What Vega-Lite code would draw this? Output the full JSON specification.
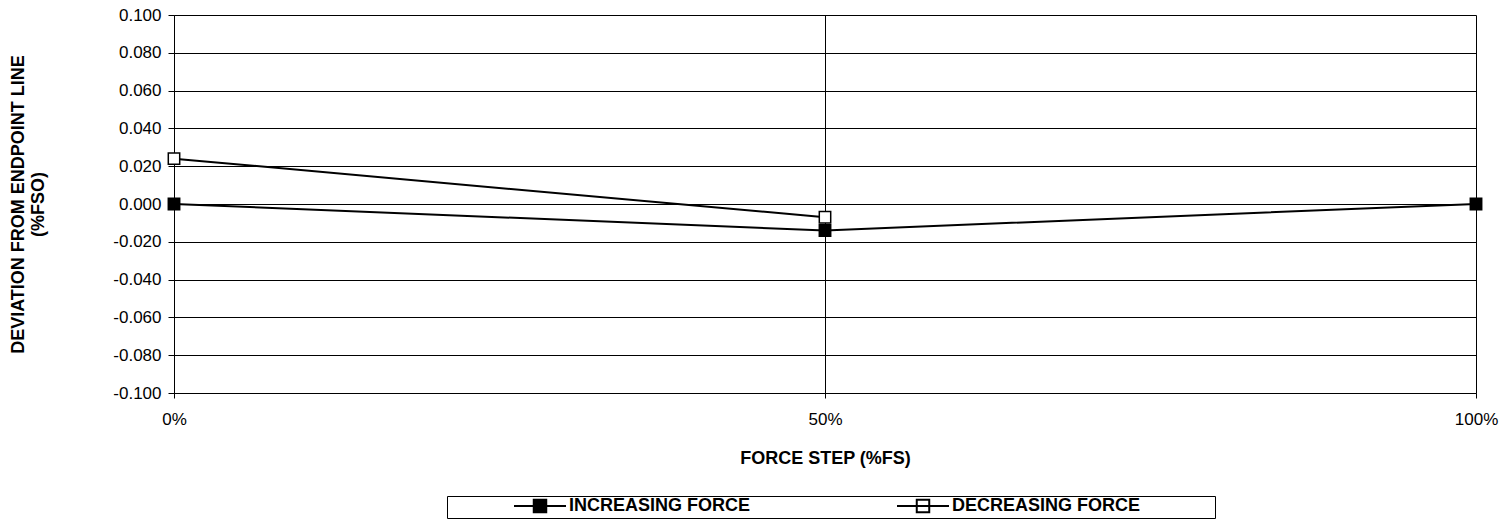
{
  "$schema": "https://vega.github.io/schema/vega-lite/v6.json",
  "autosize": "none",
  "padding": {"left": 174, "top": 15, "right": 36, "bottom": 126},
  "width": 1302,
  "height": 378,
  "background": "white",
  "config": {
    "font": "Liberation Sans",
    "view": {"stroke": null},
    "axis": {
      "gridColor": "#000000",
      "gridOpacity": 1,
      "gridWidth": 1,
      "domainColor": "#000000",
      "domainWidth": 1,
      "tickColor": "#000000",
      "tickWidth": 1,
      "labelColor": "#000000",
      "labelFontSize": 17,
      "labelFont": "Liberation Sans",
      "titleFont": "Liberation Sans",
      "titleFontSize": 18,
      "titleFontWeight": "bold",
      "titleColor": "#000000"
    }
  },
  "data": {
    "values": [
      {"step": 0, "dev": 0.0, "series": "INCREASING FORCE"},
      {"step": 50, "dev": -0.014, "series": "INCREASING FORCE"},
      {"step": 100, "dev": 0.0, "series": "INCREASING FORCE"},
      {"step": 0, "dev": 0.024, "series": "DECREASING FORCE"},
      {"step": 50, "dev": -0.007, "series": "DECREASING FORCE"}
    ]
  },
  "encoding": {
    "x": {
      "field": "step",
      "type": "quantitative",
      "scale": {"domain": [0, 100], "nice": false, "zero": false},
      "axis": {
        "values": [0, 50, 100],
        "labelExpr": "datum.value + '%'",
        "title": "FORCE STEP (%FS)",
        "tickSize": 5,
        "labelPadding": 13,
        "titlePadding": 22,
        "grid": true,
        "labelFlush": false,
        "labelOverlap": false
      }
    },
    "y": {
      "field": "dev",
      "type": "quantitative",
      "scale": {"domain": [-0.1, 0.1], "nice": false, "zero": false},
      "axis": {
        "values": [-0.1, -0.08, -0.06, -0.04, -0.02, 0, 0.02, 0.04, 0.06, 0.08, 0.1],
        "labelExpr": "(datum.value < -0.000001 ? '-' : '') + format(abs(datum.value), '.3f')",
        "title": ["DEVIATION FROM ENDPOINT LINE", "(%FSO)"],
        "titleLineHeight": 20,
        "titlePadding": 65,
        "tickSize": 6,
        "labelPadding": 7,
        "grid": true,
        "labelOverlap": false
      }
    }
  },
  "layer": [
    {
      "mark": {"type": "line", "stroke": "#000000", "strokeWidth": 2},
      "encoding": {
        "detail": {"field": "series", "type": "nominal"}
      }
    },
    {
      "mark": {"type": "point", "shape": "square", "size": 130, "filled": true, "stroke": "#000000", "strokeWidth": 1.5, "opacity": 1},
      "encoding": {
        "fill": {
          "field": "series",
          "type": "nominal",
          "scale": {"domain": ["INCREASING FORCE", "DECREASING FORCE"], "range": ["#000000", "#ffffff"]},
          "legend": {
            "orient": "none",
            "legendX": 273,
            "legendY": 481,
            "direction": "horizontal",
            "columns": 2,
            "columnPadding": 145,
            "padding": 2,
            "strokeColor": "#000000",
            "fillColor": "#ffffff",
            "title": "\u00a0",
            "titleOrient": "left",
            "titleFontSize": 18,
            "titlePadding": 64,
            "symbolType": "M-1,0H1M-0.24,-0.24H0.24V0.24H-0.24Z",
            "symbolSize": 2704,
            "symbolStrokeColor": "#000000",
            "symbolStrokeWidth": 2,
            "symbolOpacity": 1,
            "clipHeight": 16,
            "labelFont": "Liberation Sans",
            "labelFontSize": 18,
            "labelFontWeight": "bold",
            "labelColor": "#000000",
            "labelOffset": 2,
            "labelLimit": 600,
            "labelExpr": "datum.value == 'DECREASING FORCE' ? datum.label + '\u2003\u2003\u2003\u2003\u200b' : datum.label"
          }
        }
      }
    }
  ]
}
